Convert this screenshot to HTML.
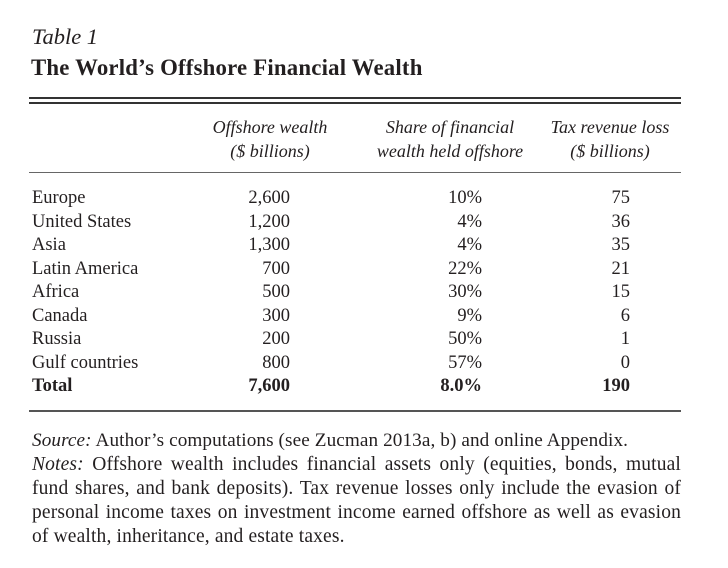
<!DOCTYPE html>
<html><head><style>
body{margin:0;width:728px;height:568px;background:#fff;font-family:"Liberation Serif",serif;color:#231f20;position:relative;overflow:hidden}
.a{position:absolute;white-space:nowrap}
.r{position:absolute;font-size:18.5px;line-height:20px}
.hr{position:absolute;left:29px;width:652px;background:#333}
.c{position:absolute;text-align:center;font-style:italic;font-size:18px;line-height:24px}
.n{position:absolute;left:32px;width:649px;font-size:19.5px;line-height:24px;text-align:justify;text-align-last:justify;white-space:nowrap;letter-spacing:0.15px}
</style></head><body>
<div class="a" style="left:32px;top:24px;font-size:22.5px;font-style:italic">Table 1</div>
<div class="a" style="left:31px;top:55px;font-size:22.8px;font-weight:bold;letter-spacing:0.2px">The World’s Offshore Financial Wealth</div>
<div class="hr" style="top:97px;height:1.5px"></div>
<div class="hr" style="top:102px;height:1.5px"></div>
<div class="c" style="left:180px;width:180px;top:115px">Offshore wealth<br>($ billions)</div>
<div class="c" style="left:350px;width:200px;top:115px">Share of financial<br>wealth held offshore</div>
<div class="c" style="left:530px;width:160px;top:115px">Tax revenue loss<br>($ billions)</div>
<div class="hr" style="top:172px;height:1px;background:#666"></div>
<div id="rows"></div>
<div class="hr" style="top:410px;height:1.5px;background:#555"></div>
<div class="n" style="top:429px;text-align-last:left;letter-spacing:0.1px;font-size:19.2px"><i>Source:</i> Author’s computations (see Zucman 2013a, b) and online Appendix.</div>
<div class="n" style="top:453px;word-spacing:-1px"><i>Notes:</i> Offshore wealth includes financial assets only (equities, bonds, mutual</div>
<div class="n" style="top:477px">fund shares, and bank deposits). Tax revenue losses only include the evasion of</div>
<div class="n" style="top:501px">personal income taxes on investment income earned offshore as well as evasion</div>
<div class="n" style="top:525px;text-align-last:left">of wealth, inheritance, and estate taxes.</div>
<script>
var d=[["Europe","2,600","10%","75"],["United States","1,200","4%","36"],["Asia","1,300","4%","35"],["Latin America","700","22%","21"],["Africa","500","30%","15"],["Canada","300","9%","6"],["Russia","200","50%","1"],["Gulf countries","800","57%","0"],["Total","7,600","8.0%","190"]];
var h="";d.forEach(function(r,i){var t=188+i*23.5,b=i==8?"font-weight:bold;":"";
h+='<div class="r" style="'+b+'left:32px;top:'+t+'px">'+r[0]+'</div>';
h+='<div class="r" style="'+b+'left:190px;width:100px;text-align:right;top:'+t+'px">'+r[1]+'</div>';
h+='<div class="r" style="'+b+'left:390px;width:92px;text-align:right;top:'+t+'px">'+r[2]+'</div>';
h+='<div class="r" style="'+b+'left:550px;width:80px;text-align:right;top:'+t+'px">'+r[3]+'</div>';});
document.getElementById("rows").innerHTML=h;
</script>
</body></html>
